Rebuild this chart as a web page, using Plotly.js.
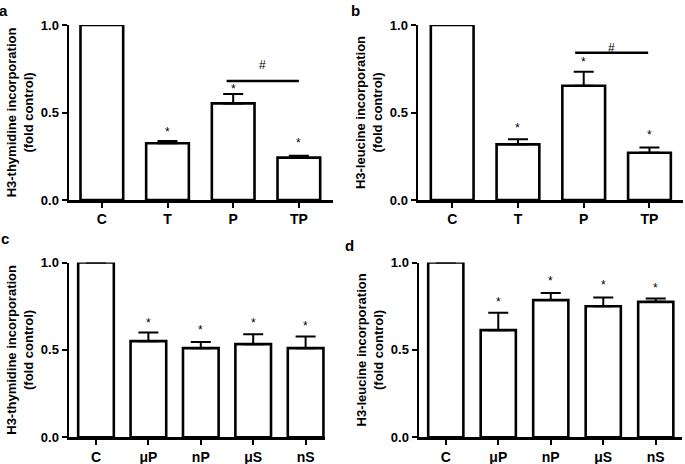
<!DOCTYPE html>
<html>
<head>
<meta charset="utf-8">
<script src="https://cdn.plot.ly/plotly-3.0.1.min.js"></script>
<style>html,body{margin:0;padding:0;background:#fff;}#chart{width:685px;height:464px;}</style>
</head>
<body>
<div id="chart"></div>
<script>
// ---- data ----
const catsTop = ['C', 'T', 'P', 'TP'];
const thymTop = [1.0, 0.324, 0.552, 0.242];
const thymTopErr = [0, 0.013, 0.054, 0.011];
const thymTopStar = [null, 0.39, 0.635, 0.325];
const leuTop = [1.0, 0.318, 0.653, 0.270];
const leuTopErr = [0, 0.029, 0.080, 0.030];
const leuTopStar = [null, 0.41, 0.79, 0.37];

const catsBottom = ['C', 'μP', 'nP', 'μS', 'nS'];
const thymBottom = [1.0, 0.550, 0.510, 0.533, 0.510];
const thymBottomErr = [0, 0.050, 0.035, 0.057, 0.067];
const thymBottomStar = [null, 0.655, 0.615, 0.655, 0.635];
const leuBottom = [1.0, 0.613, 0.785, 0.750, 0.775];
const leuBottomErr = [0, 0.099, 0.041, 0.050, 0.019];
const leuBottomStar = [null, 0.775, 0.895, 0.87, 0.855];

// significance bracket (# between P and TP)
const bracketA = {from: 1.9, to: 3.0, y: 0.68, label: '#', labelY: 0.77};
const bracketB = {from: 1.87, to: 2.98, y: 0.842, label: '#', labelY: 0.87};

const yTitleThym = 'H3-thymidine incorporation<br>(fold control)';
const yTitleLeu = 'H3-leucine incorporation<br>(fold control)';
const panelLetters = ['a', 'b', 'c', 'd'];

// ---- layout helpers ----
const W = 685, H = 464;
const FONT = 'Liberation Sans, Arial, sans-serif';
const px = v => v / W;
const py = v => 1 - v / H;

function barTrace(cats, vals, errs, xa, ya, width) {
  return {
    type: 'bar', x: cats, y: vals, xaxis: xa, yaxis: ya,
    width: width,
    marker: {color: '#ffffff', line: {color: '#000000', width: 2.6}},
    error_y: {type: 'data', symmetric: false, array: errs, arrayminus: errs.map(() => 0),
              color: '#000000', thickness: 2, width: 10},
    cliponaxis: false, showlegend: false, hoverinfo: 'skip'
  };
}

function xAxis(domain, range, anchor) {
  return {
    domain: domain, range: range, type: 'category', anchor: anchor,
    showline: true, linewidth: 2.5, linecolor: '#000',
    ticks: 'outside', ticklen: 5, tickwidth: 2, tickcolor: '#000',
    showgrid: false, zeroline: false, automargin: false, fixedrange: true,
    tickfont: {family: FONT, size: 14, color: '#000', weight: 'bold'}
  };
}
function yAxis(domain, anchor, title) {
  return {
    domain: domain, range: [0, 1], anchor: anchor,
    tickvals: [0, 0.5, 1], tickformat: '.1f',
    showline: true, linewidth: 2.5, linecolor: '#000',
    ticks: 'outside', ticklen: 5, tickwidth: 2, tickcolor: '#000',
    showgrid: false, zeroline: false, automargin: false, fixedrange: true,
    tickfont: {family: FONT, size: 13, color: '#000', weight: 'bold'},
    title: {text: title, standoff: 5,
            font: {family: FONT, size: 13, color: '#000', weight: 'bold'}}
  };
}

const traces = [
  barTrace(catsTop, thymTop, thymTopErr, 'x', 'y', 0.65),
  barTrace(catsTop, leuTop, leuTopErr, 'x2', 'y2', 0.65),
  barTrace(catsBottom, thymBottom, thymBottomErr, 'x3', 'y3', 0.68),
  barTrace(catsBottom, leuBottom, leuBottomErr, 'x4', 'y4', 0.67)
];

const annotations = [];
function stars(cats, ys, xr, yr) {
  cats.forEach((c, i) => {
    if (ys[i] == null) return;
    annotations.push({x: i, y: ys[i], xref: xr, yref: yr, text: '*', showarrow: false,
      xanchor: 'center', yanchor: 'middle',
      font: {family: FONT, size: 12, color: '#000'}});
  });
}
stars(catsTop, thymTopStar, 'x', 'y');
stars(catsTop, leuTopStar, 'x2', 'y2');
stars(catsBottom, thymBottomStar, 'x3', 'y3');
stars(catsBottom, leuBottomStar, 'x4', 'y4');

const shapes = [];
[[bracketA, 'x', 'y'], [bracketB, 'x2', 'y2']].forEach(([b, xr, yr]) => {
  shapes.push({type: 'line', xref: xr, yref: yr, x0: b.from, x1: b.to, y0: b.y, y1: b.y,
               line: {color: '#000', width: 2.5}});
  annotations.push({x: (b.from + b.to) / 2, y: b.labelY, xref: xr, yref: yr, text: b.label,
    showarrow: false, xanchor: 'center', yanchor: 'middle',
    font: {family: FONT, size: 12, color: '#000'}});
});

const letterPos = [[4, 11], [355, 10], [5, 238], [349, 245]];
panelLetters.forEach((l, i) => {
  annotations.push({x: px(letterPos[i][0]), y: py(letterPos[i][1]), xref: 'paper', yref: 'paper',
    text: l, showarrow: false, xanchor: 'center', yanchor: 'middle',
    font: {family: FONT, size: 15, color: '#000', weight: 'bold'}});
});

const layout = {
  width: W, height: H, autosize: false,
  margin: {l: 0, r: 0, t: 0, b: 0, pad: 0},
  paper_bgcolor: '#fff', plot_bgcolor: '#fff',
  showlegend: false, bargap: 0,
  xaxis: xAxis([px(69), px(333)], [-0.5, 3.52], 'y'),
  yaxis: yAxis([py(200), py(25)], 'x', yTitleThym),
  xaxis2: xAxis([px(418), px(683)], [-0.52, 3.51], 'y2'),
  yaxis2: yAxis([py(200), py(25)], 'x2', yTitleLeu),
  xaxis3: xAxis([px(69), px(325)], [-0.515, 4.37], 'y3'),
  yaxis3: yAxis([py(437.3), py(262.5)], 'x3', yTitleThym),
  xaxis4: xAxis([px(419), px(682)], [-0.51, 4.5], 'y4'),
  yaxis4: yAxis([py(437.3), py(262.5)], 'x4', yTitleLeu),
  annotations: annotations,
  shapes: shapes
};

Plotly.newPlot('chart', traces, layout, {displayModeBar: false, staticPlot: true});
</script>
</body>
</html>
